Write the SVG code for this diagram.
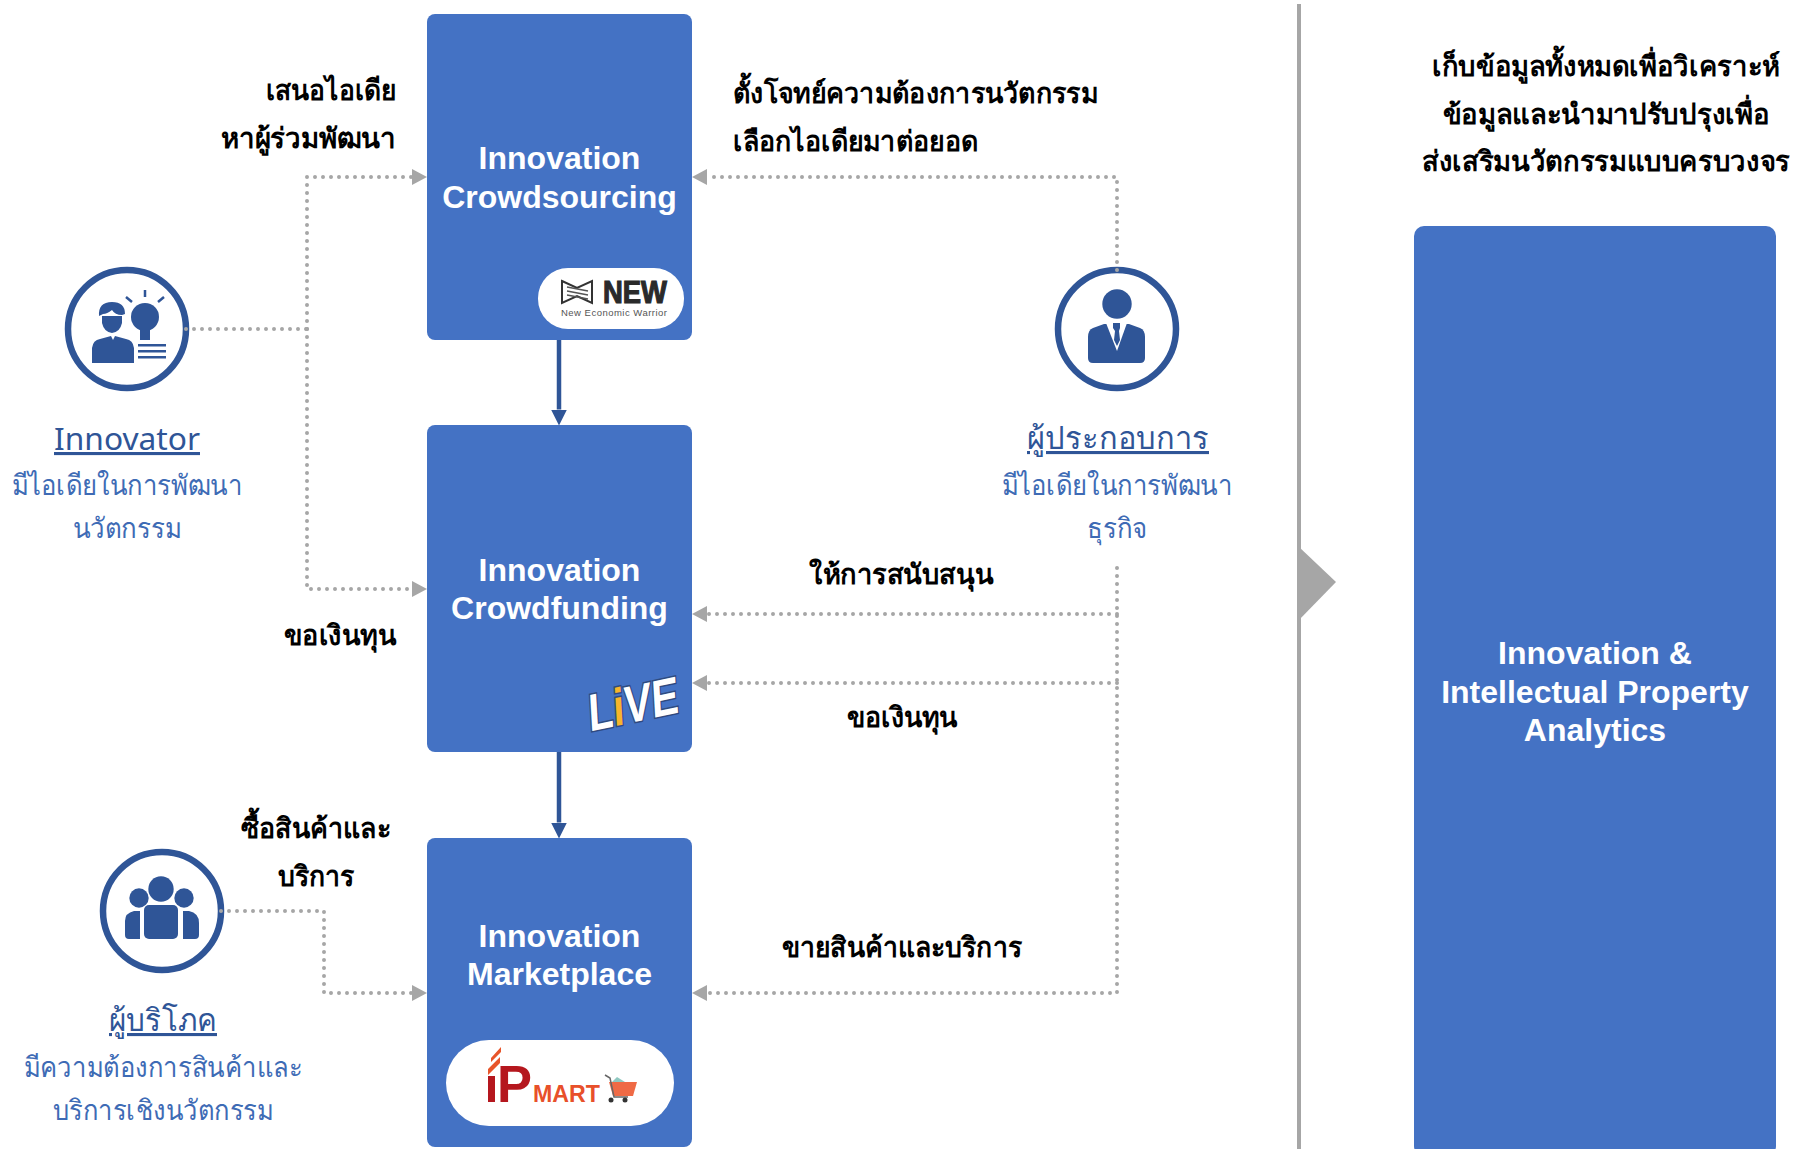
<svg xmlns="http://www.w3.org/2000/svg" width="1802" height="1149" viewBox="0 0 1802 1149">
<style>
text{font-family:"Liberation Sans","Noto Sans",sans-serif}
.box{fill:#4472c4}
.t{font-size:32px;font-weight:700;fill:#fff;text-anchor:middle}
.l{font-size:28px;fill:#000;font-weight:700}
.m{text-anchor:middle}
.e{text-anchor:end}
.h{font-size:31px;fill:#2f5597;text-anchor:middle;text-decoration:underline}
.s{font-size:28px;fill:#3e6bb5;text-anchor:middle}
.d{fill:none;stroke:#a6a6a6;stroke-width:4;stroke-linecap:round;stroke-dasharray:0 8}
.a{fill:none;stroke:#2f5597;stroke-width:4.5}
.c{fill:#fff;stroke:#2f5597;stroke-width:6.5}
.i{fill:#2f5597}
</style>
<defs>
<marker id="g" markerUnits="userSpaceOnUse" markerWidth="16" markerHeight="18" refX="15" refY="8" orient="auto"><path d="M0 0L15 8L0 16Z" fill="#a6a6a6"/></marker>
<marker id="b" markerUnits="userSpaceOnUse" markerWidth="17" markerHeight="18" refX="0" refY="8" orient="auto"><path d="M0 0L16 8L0 16Z" fill="#2f5597"/></marker>
</defs>
<g id="node-crowdsourcing">
<rect class="box" x="427" y="14" width="265" height="326" rx="8"/>
<text class="t" x="559.500" y="169">Innovation</text>
<text class="t" x="559.500" y="208">Crowdsourcing</text>
<rect x="538" y="268" width="146" height="61" rx="30" fill="#fff"/>
<path d="M562 281L577 288L592 281V303L577 296L562 303Z" fill="none" stroke="#333" stroke-width="2"/>
<path d="M567 287L588 291M567 291L588 295M567 295L588 299" stroke="#555" stroke-width="1.5"/>
<text x="603" y="303" font-size="32" font-weight="700" fill="#2a2a2a" stroke="#2a2a2a" stroke-width="1.200" textLength="64" lengthAdjust="spacingAndGlyphs">NEW</text>
<text x="561" y="316" font-size="9.500" fill="#555" textLength="106">New Economic Warrior</text>
</g>
<g id="node-crowdfunding">
<rect class="box" x="427" y="425" width="265" height="327" rx="8"/>
<text class="t" x="559.500" y="581">Innovation</text>
<text class="t" x="559.500" y="619">Crowdfunding</text>
<text transform="rotate(-12 633 705)" x="633" y="722" font-size="52" font-weight="700" font-style="italic" fill="#fff" stroke="#2f4a80" stroke-width="3" paint-order="stroke" text-anchor="middle" textLength="92" lengthAdjust="spacingAndGlyphs">L<tspan fill="#f7b52c">i</tspan>VE</text>
</g>
<g id="node-marketplace">
<rect class="box" x="427" y="838" width="265" height="309" rx="8"/>
<text class="t" x="559.500" y="947">Innovation</text>
<text class="t" x="559.500" y="985">Marketplace</text>
<rect x="446" y="1040" width="228" height="86" rx="43" fill="#fff"/>
<path d="M488 1075v-6l12-12v6zM491 1062v-4l10-11v5z" fill="#e8552a"/>
<path d="M488 1076h7v26h-7z" fill="#b5171e"/>
<text x="497" y="1102" font-size="51" font-weight="700" fill="#b5171e" textLength="35" lengthAdjust="spacingAndGlyphs">P</text>
<text x="533" y="1102" font-size="24" font-weight="700" fill="#e8502a" textLength="67" lengthAdjust="spacingAndGlyphs">MART</text>
<path d="M617 1077L625 1082H612Z" fill="#8fc8c0"/>
<path d="M609 1082H637L633 1096H613Z" fill="#ef6a45"/>
<path d="M605 1075L610 1078L614 1097H628" stroke="#666" stroke-width="1.500" fill="none"/>
<circle cx="611" cy="1100" r="2.500" fill="#333"/><circle cx="625" cy="1100" r="2.500" fill="#333"/>
</g>
<g id="node-analytics">
<rect class="box" x="1414" y="226" width="362" height="930" rx="10"/>
<text class="t" x="1595" y="664">Innovation &amp;</text>
<text class="t" x="1595" y="703">Intellectual Property</text>
<text class="t" x="1595" y="741">Analytics</text>
</g>
<g id="divider">
<path d="M1299 4V1149" stroke="#a6a6a6" stroke-width="4" fill="none"/>
<path d="M1298 546L1336 582L1298 621Z" fill="#a6a6a6"/>
</g>
<g id="node-innovator">
<circle class="c" cx="127" cy="329" r="59"/>
<path class="i" d="M99 316q-1-14 13-14q13 0 13 12l-3 1q-7 0-10-5q-5 4-9 4zM102 316h20v7q-2 9-10 10q-8-1-10-10zM92 363v-15q1-8 8-9l11-3 2 4 2-4 11 3q7 1 8 9v15z"/>
<circle class="i" cx="145" cy="317" r="14"/>
<path class="i" d="M140 330h10v10h-10zM138 344h28v2.500h-28zM138 350h28v2.500h-28zM138 356h28v2.500h-28z"/>
<path d="M145 290v7M126 297l6 5M164 297l-6 5" stroke="#2f5597" stroke-width="2.500" fill="none"/>
<text class="h" x="127" y="450" style="font-family:'Noto Sans',sans-serif;font-size:31px" textLength="146" lengthAdjust="spacingAndGlyphs">Innovator</text>
<text class="s" x="127" y="495" textLength="231" lengthAdjust="spacingAndGlyphs">มีไอเดียในการพัฒนา</text>
<text class="s" x="127" y="538" textLength="109" lengthAdjust="spacingAndGlyphs">นวัตกรรม</text>
</g>
<g id="node-operator">
<circle class="c" cx="1117" cy="329" r="59"/>
<circle class="i" cx="1117" cy="304" r="14.700"/>
<path class="i" d="M1104 324L1093 328Q1088 330 1088 337V358Q1088 363 1093 363H1140Q1145 363 1145 358V337Q1145 330 1140 328L1129 324Z"/>
<path d="M1106 323L1117 351L1127 323Z" fill="#fff"/>
<path class="i" d="M1113 323H1120V328L1119 331L1120 340L1117 346L1114 340L1115 331L1113 328Z"/>
<text class="h" x="1118" y="449" textLength="182" lengthAdjust="spacingAndGlyphs">ผู้ประกอบการ</text>
<text class="s" x="1117" y="495" textLength="231" lengthAdjust="spacingAndGlyphs">มีไอเดียในการพัฒนา</text>
<text class="s" x="1117" y="538" textLength="60" lengthAdjust="spacingAndGlyphs">ธุรกิจ</text>
</g>
<g id="node-consumer">
<circle class="c" cx="162" cy="911" r="59"/>
<circle class="i" cx="161" cy="889" r="12.700"/>
<circle class="i" cx="139" cy="898" r="9.700"/>
<circle class="i" cx="184" cy="898" r="9.700"/>
<rect class="i" x="144" y="905" width="34" height="34" rx="5"/>
<path class="i" d="M140 911h-6q-9 2-9 10v14q0 4 4 4h11zM183 911h6q10 2 10 12v12q0 4-4 4h-12z"/>
<text class="h" x="163" y="1031" textLength="108" lengthAdjust="spacingAndGlyphs">ผู้บริโภค</text>
<text class="s" x="163" y="1077" textLength="279" lengthAdjust="spacingAndGlyphs">มีความต้องการสินค้าและ</text>
<text class="s" x="163" y="1120" textLength="221" lengthAdjust="spacingAndGlyphs">บริการเชิงนวัตกรรม</text>
</g>
<g id="labels">
<text class="l e" x="396" y="100" textLength="130" lengthAdjust="spacingAndGlyphs">เสนอไอเดีย</text>
<text class="l e" x="396" y="148" textLength="175" lengthAdjust="spacingAndGlyphs">หาผู้ร่วมพัฒนา</text>
<text class="l e" x="396" y="645" textLength="112" lengthAdjust="spacingAndGlyphs">ขอเงินทุน</text>
<text class="l m" x="316" y="838" textLength="150" lengthAdjust="spacingAndGlyphs">ซื้อสินค้าและ</text>
<text class="l m" x="316" y="886" textLength="77" lengthAdjust="spacingAndGlyphs">บริการ</text>
<text class="l" x="733" y="103" textLength="365" lengthAdjust="spacingAndGlyphs">ตั้งโจทย์ความต้องการนวัตกรรม</text>
<text class="l" x="733" y="151" textLength="245" lengthAdjust="spacingAndGlyphs">เลือกไอเดียมาต่อยอด</text>
<text class="l m" x="901" y="584" textLength="184" lengthAdjust="spacingAndGlyphs">ให้การสนับสนุน</text>
<text class="l m" x="902" y="727" textLength="111" lengthAdjust="spacingAndGlyphs">ขอเงินทุน</text>
<text class="l m" x="902" y="957" textLength="240" lengthAdjust="spacingAndGlyphs">ขายสินค้าและบริการ</text>
<text class="l m" x="1606" y="76" textLength="348" lengthAdjust="spacingAndGlyphs">เก็บข้อมูลทั้งหมดเพื่อวิเคราะห์</text>
<text class="l m" x="1606" y="124" textLength="327" lengthAdjust="spacingAndGlyphs">ข้อมูลและนำมาปรับปรุงเพื่อ</text>
<text class="l m" x="1606" y="171" textLength="368" lengthAdjust="spacingAndGlyphs">ส่งเสริมนวัตกรรมแบบครบวงจร</text>
</g>
<g id="connectors">
<path class="d" d="M186 329H307"/>
<path class="d" d="M307 329V177H412"/>
<path d="M412 177H427" marker-end="url(#g)"/>
<path class="d" d="M307 329V589H412"/>
<path d="M412 589H427" marker-end="url(#g)"/>
<path class="d" d="M1117 270V177H708"/>
<path d="M707 177H692" marker-end="url(#g)"/>
<path class="d" d="M1117 568V993H708"/>
<path d="M707 993H692" marker-end="url(#g)"/>
<path class="d" d="M1117 614H708"/>
<path d="M707 614H692" marker-end="url(#g)"/>
<path class="d" d="M1117 683H708"/>
<path d="M707 683H692" marker-end="url(#g)"/>
<path class="d" d="M221 911H324V993H412"/>
<path d="M412 993H427" marker-end="url(#g)"/>
<path class="a" d="M559 340V409.500" marker-end="url(#b)"/>
<path class="a" d="M559 752V822.500" marker-end="url(#b)"/>
</g>
</svg>
